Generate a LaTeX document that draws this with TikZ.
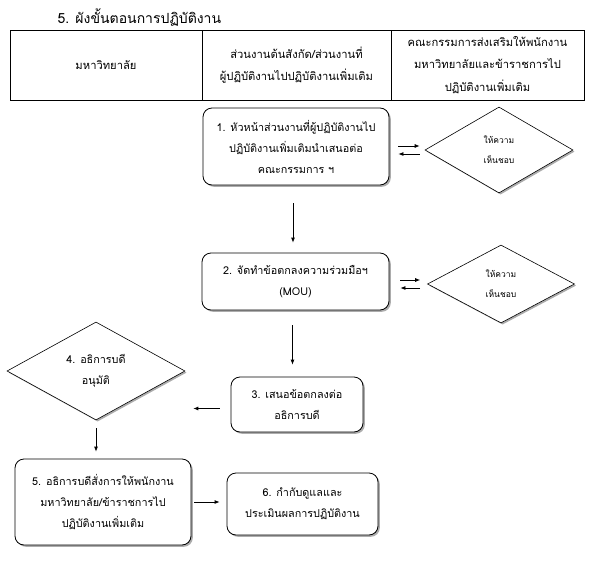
\documentclass[tikz,border=0pt]{standalone}
\usepackage{fontspec}
\setmainfont[Script=Thai]{Loma}
\usepackage{tikz}
\usetikzlibrary{arrows.meta,shapes.geometric,shadows,calc}
\tikzset{
  hcell/.style={draw, line width=0.8pt, align=center, inner sep=0pt, font=\fontsize{11.2}{22.5}\selectfont},
  stepbox/.style={draw, line width=0.8pt, fill=white, rounded corners=9pt, align=center, inner sep=0pt,
    font=\fontsize{10.8}{21}\selectfont,
    drop shadow={shadow xshift=1.8pt, shadow yshift=-1.8pt, fill=gray!65, opacity=1}},
  decide/.style={draw, diamond, line width=0.6pt, fill=white, align=center, inner sep=0pt,
    font=\fontsize{8.5}{20}\selectfont,
    drop shadow={shadow xshift=1.6pt, shadow yshift=-1.6pt, fill=gray!65, opacity=1}},
  arrow/.style={-{Latex[length=5pt,width=4pt]}, line width=0.8pt}
}

\begin{document}
\begin{tikzpicture}[x=1pt,y=-1pt]
    \useasboundingbox (0,0) rectangle (595,565);
    \node[anchor=west, font=\fontsize{14}{17}\selectfont] (title) at (54,17) {5. ผังขั้นตอนการปฏิบัติงาน};

    % header of the table
    \node[hcell, minimum width=192pt, minimum height=70pt] (colu) at (106,65) {มหาวิทยาลัย};
    \node[hcell, minimum width=189pt, minimum height=70pt] (cold) at (296.5,65) {ส่วนงานต้นสังกัด/ส่วนงานที่\\ผู้ปฏิบัติงานไปปฏิบัติงานเพิ่มเติม};
    \node[hcell, minimum width=193pt, minimum height=70pt] (colc) at (487.5,65) {คณะกรรมการส่งเสริมให้พนักงาน\\มหาวิทยาลัยและข้าราชการไป\\ปฏิบัติงานเพิ่มเติม};

    \node[stepbox, minimum width=186pt, minimum height=77pt] (s1) at (296,146.5) {1. หัวหน้าส่วนงานที่ผู้ปฏิบัติงานไป\\ปฏิบัติงานเพิ่มเติมนำเสนอต่อ\\คณะกรรมการ ฯ};
    \node[decide, minimum width=148pt, minimum height=86pt] (d1) at (499,150) {ให้ความ\\เห็นชอบ};
    \node[stepbox, minimum width=187pt, minimum height=57pt] (s2) at (295.5,281.5) {2. จัดทำข้อตกลงความร่วมมือฯ\\(MOU)};
    \node[decide, minimum width=147pt, minimum height=78pt] (d2) at (501,284) {ให้ความ\\เห็นชอบ};
    \node[stepbox, minimum width=132pt, minimum height=55pt] (s3) at (297,404.5) {3. เสนอข้อตกลงต่อ\\อธิการบดี};
    \node[decide, minimum width=178pt, minimum height=98pt, font=\fontsize{10.8}{21}\selectfont] (d4) at (96,371) {4. อธิการบดี\\อนุมัติ};
    \node[stepbox, minimum width=176pt, minimum height=86pt] (s5) at (103,502) {5. อธิการบดีสั่งการให้พนักงาน\\มหาวิทยาลัย/ข้าราชการไป\\ปฏิบัติงานเพิ่มเติม};
    \node[stepbox, minimum width=151pt, minimum height=62pt] (s6) at (302.5,504) {6. กำกับดูแลและ\\ประเมินผลการปฏิบัติงาน};

    \draw[arrow, shorten <=9pt, shorten >=5pt] ([yshift=4pt]s1.east |- d1.west) -- ([yshift=4pt]d1.west);
    \draw[arrow, shorten <=5pt, shorten >=9pt] ([yshift=-4pt]d1.west) -- ([yshift=-4pt]s1.east |- d1.west);
    \draw[arrow, shorten <=11pt, shorten >=7pt] ([yshift=4pt]s2.east |- d2.west) -- ([yshift=4pt]d2.west);
    \draw[arrow, shorten <=7pt, shorten >=11pt] ([yshift=-4pt]d2.west) -- ([yshift=-4pt]s2.east |- d2.west);
    \draw[arrow, shorten <=18pt, shorten >=10pt] ([xshift=-3pt]s1.south) -- ([xshift=-3pt]s1.south |- s2.north);
    \draw[arrow, shorten <=15pt, shorten >=12pt] ([xshift=-3pt]s2.south) -- ([xshift=-3pt]s2.south |- s3.north);
    \draw[arrow, shorten <=11pt, shorten >=8pt] ([yshift=-4pt]s3.west) -- ([yshift=-4pt]s3.west -| d4.east);
    \draw[arrow, shorten <=8pt, shorten >=7pt] (d4.south) -- (d4.south |- s5.north);
    \draw[arrow, shorten <=3pt, shorten >=7pt] (s5.east) -- (s5.east -| s6.west);
  \end{tikzpicture}
\end{document}
